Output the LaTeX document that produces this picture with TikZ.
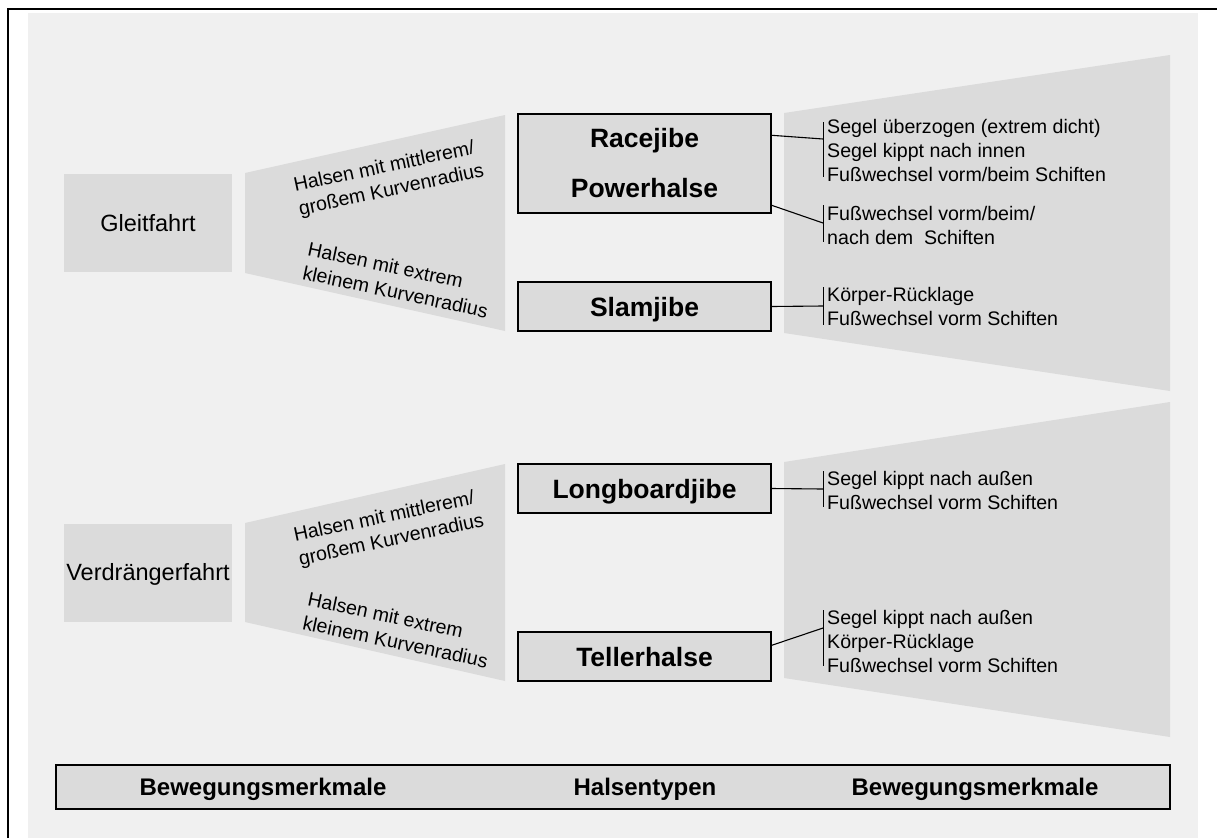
\documentclass[tikz,border=0pt]{standalone}
\usepackage{fontspec}
\setmainfont{Liberation Sans}
\usetikzlibrary{calc}
\definecolor{panel}{RGB}{240,240,240}
\definecolor{shade}{RGB}{219,219,219}

\begin{document}
\begin{tikzpicture}[x=1pt,y=-1pt,
  funnel/.style={fill=shade},
  modebox/.style={fill=shade, draw=none, minimum width=168pt, minimum height=98pt,
    inner sep=0pt, font=\fontsize{23.5}{28}\selectfont, text height=16.9pt, text depth=0pt},
  typebox/.style={fill=shade, draw=black, line width=1.4pt, minimum width=253pt,
    inner sep=0pt, font=\fontsize{26.5}{50}\selectfont\bfseries},
  onetype/.style={typebox, minimum height=49pt, text height=19pt, text depth=0pt},
  hint/.style={anchor=north west, inner sep=0pt, align=left,
    font=\fontsize{19.6}{24}\selectfont},
  slant/.style={align=left, inner sep=0pt, font=\fontsize{19.6}{24}\selectfont},
  bracket/.style={draw=black, line width=1pt},
  link/.style={draw=black, line width=1.1pt},
  legend/.style={fill=shade, draw=black, line width=1.5pt, minimum width=1114pt,
    minimum height=44pt, inner sep=0pt},
  legendtext/.style={inner sep=0pt, font=\fontsize{24}{28}\selectfont\bfseries,
    text height=17.2pt, text depth=0pt}
]
\useasboundingbox (0,0) rectangle (1217,838);
\fill[white] (0,0) rectangle (1217,838);

% background panel and frame
\fill[panel] (28,13) rectangle (1198,838);
\draw[line width=2pt] (8.3,838) -- (8.3,9) -- (1217,9);

% funnels
\fill[funnel] (245,173) -- (505,115) -- (505,331) -- (245,273) -- cycle;
\fill[funnel] (784,113) -- (1170,55) -- (1170,391) -- (784,333) -- cycle;
\fill[funnel] (245,523) -- (505,464) -- (505,681) -- (245,622) -- cycle;
\fill[funnel] (784,462) -- (1170,402) -- (1170,737) -- (784,678) -- cycle;

% riding modes
\node[modebox] (glf) at (148,223) {Gleitfahrt};
\node[modebox] (vdf) at (148,572.5) {Verdrängerfahrt};

% turn radius labels
\node[slant, rotate=12]  (g1) at (389,179) {Halsen mit mittlerem/\\großem Kurvenradius};
\node[slant, rotate=-12] (g2) at (398,280) {Halsen mit extrem\\kleinem Kurvenradius};
\node[slant, rotate=12]  (v1) at (389,529) {Halsen mit mittlerem/\\großem Kurvenradius};
\node[slant, rotate=-12] (v2) at (398,630) {Halsen mit extrem\\kleinem Kurvenradius};

% jibe types
\node[typebox, minimum height=99pt, align=center] (rp) at (644.5,163.5) {Racejibe\\Powerhalse};
\node[onetype] (sj) at (644.5,306.5) {Slamjibe};
\node[onetype] (lb) at (644.5,488.5) {Longboardjibe};
\node[onetype] (th) at (644.5,656.5) {Tellerhalse};

% movement features
\node[hint] (f1) at (827,119) {Segel überzogen (extrem dicht)\\Segel kippt nach innen\\Fußwechsel vorm/beim Schiften};
\node[hint] (f2) at (827,206) {Fußwechsel vorm/beim/\\nach dem\ \ Schiften};
\node[hint] (f3) at (827,287.5) {Körper-Rücklage\\Fußwechsel vorm Schiften};
\node[hint] (f4) at (827,471) {Segel kippt nach außen\\Fußwechsel vorm Schiften};
\node[hint] (f5) at (827,610.5) {Segel kippt nach außen\\Körper-Rücklage\\Fußwechsel vorm Schiften};

% brackets
\draw[bracket] (823,122) -- (823,177);
\draw[bracket] (823,205) -- (823,242);
\draw[bracket] (823,287) -- (823,325);
\draw[bracket] (823,471) -- (823,507);
\draw[bracket] (823,610) -- (823,666);

\coordinate (k1) at (823,139);
\coordinate (k2) at (823,223);
\coordinate (k3) at (823,306);
\coordinate (k4) at (823,489);
\coordinate (k5) at (823,628);

% connectors
\draw[link] ($(rp.north east)+(0,22)$) -- (k1);
\draw[link] ($(rp.north east)+(0,92)$) -- (k2);
\draw[link] (sj.east) -- (k3);
\draw[link] (lb.east) -- (k4);
\draw[link] ($(th.north east)+(0,14)$) -- (k5);

% legend bar
\node[legend] (bar) at (613,787) {};
\node[legendtext] (l1) at (263,787) {Bewegungsmerkmale};
\node[legendtext] (l2) at (645,787) {Halsentypen};
\node[legendtext] (l3) at (975,787) {Bewegungsmerkmale};
\end{tikzpicture}
\end{document}
